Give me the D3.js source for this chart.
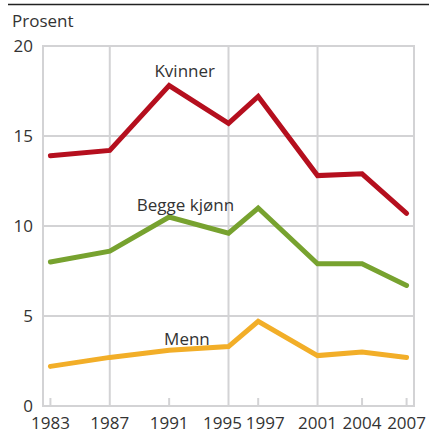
<!DOCTYPE html>
<html>
<head>
<meta charset="utf-8">
<script src="https://cdn.jsdelivr.net/npm/d3@7"></script>
<style>
  html, body { margin: 0; padding: 0; background: #fff; }
  svg { display: block; font-family: "Open Sans", sans-serif; }
</style>
</head>
<body>
<div class="svgWrap"></div>
<script>
var years = [1983, 1987, 1991, 1995, 1997, 2001, 2004, 2007];
var kvinner = [13.9, 14.2, 17.8, 15.7, 17.2, 12.8, 12.9, 10.7];
var begge = [8.0, 8.6, 10.5, 9.6, 11.0, 7.9, 7.9, 6.7];
var menn = [2.2, 2.7, 3.1, 3.3, 4.7, 2.8, 3.0, 2.7];
var yTicks = [0, 5, 10, 15, 20];
var gridYears = [1987, 1995, 2001];
var seriesNames = ["Kvinner", "Begge kjønn", "Menn"];

var W = 429, H = 432;
var plotLeft = 43, plotRight = 414, plotTop = 46, plotBottom = 406;

var x = d3.scaleLinear().domain([1982.5, 2007.5]).range([plotLeft, plotRight]);
var y = d3.scaleLinear().domain([0, 20]).range([plotBottom, plotTop]);

var svg = d3.select(".svgWrap")
  .append("svg")
  .attr("width", W)
  .attr("height", H);

// top rule
svg.append("line")
  .attr("x1", 8).attr("x2", W)
  .attr("y1", 4.5).attr("y2", 4.5)
  .attr("stroke", "#222").attr("stroke-width", 1.5);

var gridColor = "#d3d3d5";

// horizontal grid
svg.append("g").selectAll("line")
  .data(yTicks)
  .enter().append("line")
  .attr("x1", plotLeft).attr("x2", plotRight)
  .attr("y1", function(d){ return y(d); })
  .attr("y2", function(d){ return y(d); })
  .attr("stroke", gridColor).attr("stroke-width", 2);

// vertical grid + frame sides
svg.append("g").selectAll("line")
  .data(gridYears.map(x).concat(x.range()))
  .enter().append("line")
  .attr("x1", function(d){ return d; })
  .attr("x2", function(d){ return d; })
  .attr("y1", y(20) - 1).attr("y2", y(0) + 1)
  .attr("stroke", gridColor).attr("stroke-width", 2);

// short ticks at the other years
svg.append("g").selectAll("line")
  .data(years.filter(function(d){ return gridYears.indexOf(d) < 0; }))
  .enter().append("line")
  .attr("x1", function(d){ return x(d); })
  .attr("x2", function(d){ return x(d); })
  .attr("y1", y(0) - 8).attr("y2", y(0))
  .attr("stroke", gridColor).attr("stroke-width", 2);

// y labels
svg.append("g").selectAll("text")
  .data(yTicks)
  .enter().append("text")
  .attr("x", 33)
  .attr("y", function(d){ return y(d) + 6; })
  .attr("text-anchor", "end")
  .attr("fill", "#333")
  .style("font-size", "17px")
  .text(function(d){ return d; });

// x labels (1995/1997 nudged apart like the original)
var nudge = {1995: -6, 1997: 7};
svg.append("g").selectAll("text")
  .data(years)
  .enter().append("text")
  .attr("x", function(d){ return x(d) + (nudge[d] || 0); })
  .attr("y", 429)
  .attr("text-anchor", "middle")
  .attr("fill", "#333")
  .style("font-size", "17px")
  .text(function(d){ return d; });

// unit label
svg.append("text")
  .attr("x", 12).attr("y", 27)
  .attr("fill", "#333")
  .style("font-size", "17px")
  .text("Prosent");

var line = d3.line()
  .x(function(d, i){ return x(years[i]); })
  .y(function(d){ return y(d); });

var series = [
  {values: kvinner, color: "#b50f1e"},
  {values: begge, color: "#77a22f"},
  {values: menn, color: "#f2ae28"}
];

svg.append("g").selectAll("path")
  .data(series)
  .enter().append("path")
  .attr("d", function(d){ return line(d.values); })
  .attr("fill", "none")
  .attr("stroke", function(d){ return d.color; })
  .attr("stroke-width", 5)
  .attr("stroke-linecap", "round")
  .attr("stroke-linejoin", "miter");

// series labels
var labelPos = [[1992.05, 18.28], [1992.1, 10.83], [1992.2, 3.39]];
svg.append("g").selectAll("text")
  .data(seriesNames)
  .enter().append("text")
  .attr("x", function(d, i){ return x(labelPos[i][0]); })
  .attr("y", function(d, i){ return y(labelPos[i][1]); })
  .attr("text-anchor", "middle")
  .attr("fill", "#333")
  .style("font-size", "17px")
  .text(function(d){ return d; });
</script>
</body>
</html>
